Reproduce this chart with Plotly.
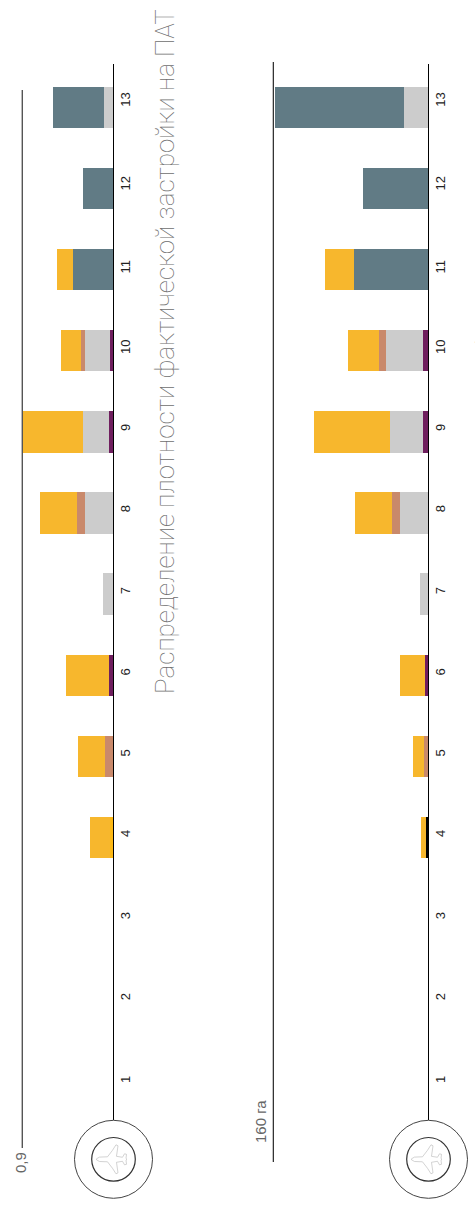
import plotly.graph_objects as go

W, H = 475, 1205

# Plot numbers along the runway axis
plots = [1, 2, 3, 4, 5, 6, 7, 8, 9, 10, 11, 12, 13]
plot_labels = [str(p) for p in plots]

# Density of actual development by land use
density_base = [None, None, None, 0.03, None, None, None, None, None, None, None, None, None]
density_purple = [None, None, None, None, None, 0.045, None, None, 0.04, 0.035, None, None, None]
density_gray = [None, None, None, None, None, None, 0.105, 0.28, 0.26, 0.24, None, None, 0.09]
density_teal = [None, None, None, None, None, None, None, None, None, None, 0.40, 0.30, 0.51]
density_brown = [None, None, None, None, 0.085, None, None, 0.08, None, 0.045, None, None, None]
density_yellow = [None, None, None, 0.20, 0.265, 0.425, None, 0.365, 0.60, 0.20, 0.16, None, None]

# Area of actual development by land use, hectares
area_base = [None, None, None, 1.9, None, None, None, None, None, None, None, None, None]
area_purple = [None, None, None, None, None, 3.4, None, None, 5.9, 5.9, None, None, None]
area_gray = [None, None, None, None, None, None, 9, 29.2, 33.7, 37.5, None, None, 25.1]
area_teal = [None, None, None, None, None, None, None, None, None, None, 76.7, 67, 133.5]
area_brown = [None, None, None, None, 4.5, None, None, 8.3, None, 7.6, None, None, None]
area_yellow = [None, None, None, 5.2, 11, 25.8, None, 38.2, 78.5, 31.7, 30.3, None, None]

TITLE_DENSITY = "Распределение плотности фактической застройки на ПАТ"
TITLE_AREA = "Распределение площади фактической застройки на ПАТ"

YELLOW, GRAY, TEAL, BROWN, PURPLE = "#F7B72D", "#CCCCCC", "#617B85", "#C9896B", "#6F1E5E"

# Per-label shift of the rotated tick text along the axis, px (up is positive)
label_shift = [-0.5, 1, 1, 2, 1.5, 1.5, 1.5, 2.5, 2.5, 2, 1, 3.5, 6]

STEP = 81.1             # px between plots
Y13 = 107.5             # px position of plot 13
AXIS_TOP, AXIS_BOTTOM = 64, 1120


def px_x(v):
    return v / W


def px_y(v):
    return 1 - v / H


def plot_at(px):
    return 13 + (Y13 - px) / STEP


fig = go.Figure()

panels = [
    ("x", "y", [density_base, density_purple, density_gray, density_teal, density_brown, density_yellow], "#FDB813"),
    ("x2", "y2", [area_base, area_purple, area_gray, area_teal, area_brown, area_yellow], "#000000"),
]
for xa, ya, stacks, base_color in panels:
    colors = [base_color, PURPLE, GRAY, TEAL, BROWN, YELLOW]
    for values, color in zip(stacks, colors):
        fig.add_bar(
            x=values, y=plots, orientation="h", xaxis=xa, yaxis=ya,
            width=0.509, marker=dict(color=color, line=dict(width=0)),
            showlegend=False,
        )

tick_vals = [p + s / STEP for p, s in zip(plots, label_shift)]
y_common = dict(
    range=[plot_at(AXIS_BOTTOM), plot_at(AXIS_TOP)],
    domain=[px_y(AXIS_BOTTOM), px_y(AXIS_TOP)],
    side="right", showline=True, linecolor="#000000", linewidth=1.3,
    showgrid=False, zeroline=False, ticks="",
    tickmode="array", tickvals=tick_vals, ticktext=plot_labels, tickangle=-90,
    tickfont=dict(family="Liberation Sans Narrow, Liberation Sans", size=13, color="#222222"),
    ticklabelstandoff=0,
)

# Axis scales: 0.9 spans 91 px on the density panel, 160 ha spans 155 px on the area panel
DENSITY_PX, AREA_PX = 91 / 0.9, 155 / 160
BASE_L, BASE_R = 113.3, 428.3
x_common = dict(visible=False, showgrid=False, zeroline=False)

fig.update_layout(
    width=W, height=H, margin=dict(l=0, r=0, t=0, b=0),
    paper_bgcolor="white", plot_bgcolor="rgba(0,0,0,0)",
    barmode="stack", showlegend=False,
    xaxis=dict(range=[1.0, 0], domain=[px_x(BASE_L - DENSITY_PX), px_x(BASE_L)], anchor="y", **x_common),
    xaxis2=dict(range=[170, 0], domain=[px_x(BASE_R - 170 * AREA_PX), px_x(BASE_R)], anchor="y2", **x_common),
    yaxis=dict(anchor="x", **y_common),
    yaxis2=dict(anchor="x2", **y_common),
)


def circle(cx, cy, r, color, width):
    fig.add_shape(
        type="circle", xref="paper", yref="paper",
        x0=px_x(cx - r), x1=px_x(cx + r), y0=px_y(cy + r), y1=px_y(cy - r),
        line=dict(color=color, width=width), fillcolor="rgba(0,0,0,0)",
    )


# Half outline of the aircraft, nose to tail, offset from the circle centre
AIRCRAFT_HALF = [(-17, -0.5), (-14, -2.2), (-6, -2.5), (-1, -9), (2.5, -14.5), (4.5, -13.5),
                 (3, -3), (9, -2), (11, -5.5), (13, -5), (12.5, -0.8), (13.5, 0)]


def aircraft(cx, cy):
    lower = [(dx, -dy) for dx, dy in reversed(AIRCRAFT_HALF[:-1])]
    pts = AIRCRAFT_HALF + lower
    path = "M " + " L ".join(f"{px_x(cx + dx):.5f},{px_y(cy + dy):.5f}" for dx, dy in pts) + " Z"
    fig.add_shape(type="path", xref="paper", yref="paper", path=path,
                  line=dict(color="#B5B5B5", width=0.6))


for cx in (113.5, 428.5):
    circle(cx, 1159.3, 39, "#444444", 1)
    circle(cx, 1159.3, 21.8, "#333333", 1.2)
    aircraft(cx, 1159.3)

# Scale reference lines
fig.add_shape(type="line", xref="x", yref="paper", x0=0.9, x1=0.9,
              y0=px_y(1148), y1=px_y(90), line=dict(color="#555555", width=1.4))
fig.add_shape(type="line", xref="x2", yref="paper", x0=160, x1=160,
              y0=px_y(1162), y1=px_y(62), line=dict(color="#111111", width=1.1))


def rotated(text, x, y, size, color, family, weight=None, yanchor="bottom", xanchor="left"):
    font = dict(family=family, size=size, color=color)
    if weight:
        font["weight"] = weight
    fig.add_annotation(
        text=text, xref="paper", yref="paper", x=px_x(x), y=px_y(y),
        xanchor=xanchor, yanchor=yanchor, textangle=-90, showarrow=False,
        font=font, borderpad=0,
    )


NARROW = "Liberation Sans Narrow, Liberation Sans"
rotated("0,9", 20.5, 1162.5, 15, "#666666", NARROW, yanchor="middle", xanchor="center")
rotated("160 га", 260, 1122, 15, "#666666", NARROW, yanchor="middle", xanchor="center")

THIN = "Roboto, Lato, Open Sans"
rotated(TITLE_DENSITY, 149.5, 695, 26, "#6E6E6E", THIN, weight=100)
rotated(TITLE_AREA, 469.5, 650, 26, "#6E6E6E", THIN, weight=100)

fig.write_html("out.html")
